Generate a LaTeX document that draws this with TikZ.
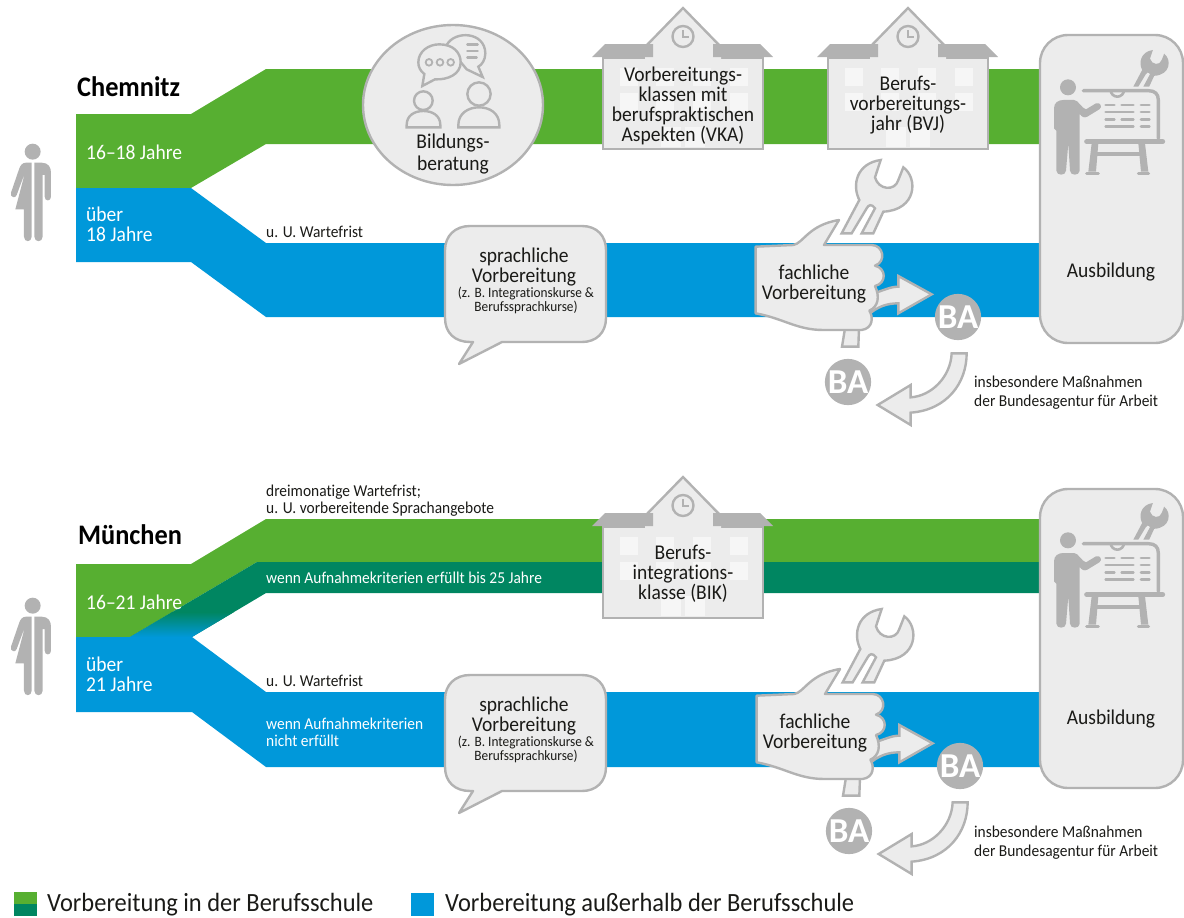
\documentclass[tikz,border=0pt]{standalone}
\usepackage{fontspec}
\setmainfont{Carlito}[FakeStretch=0.93,Ligatures=NoCommon]
\newfontfamily\bafont{Carlito}
\definecolor{bgreen}{HTML}{57AF31}
\definecolor{dgreen}{HTML}{008661}
\definecolor{bblue}{HTML}{0098DA}
\definecolor{gline}{HTML}{B2B2B2}
\definecolor{gfill}{HTML}{ECECEC}
\definecolor{wfill}{HTML}{F6F6F6}
\definecolor{ink}{HTML}{1A1A17}
\tikzset{
  shapebox/.style={draw=gline,fill=gfill,line width=2.4pt,line join=miter},
  solidicon/.style={fill=gline,draw=none},
  iconline/.style={draw=gline,line width=2.4pt,fill=none,line cap=round},
  zoomed/.style={x=0.33333pt,y=-0.33333pt},
  lbl/.style={text=ink,align=center,inner sep=0pt,font=\fontsize{21}{20}\selectfont},
  smalllbl/.style={text=ink,align=left,anchor=north west,inner sep=0pt,font=\fontsize{16.6}{16.5}\selectfont},
  tinylbl/.style={text=ink,align=center,inner sep=0pt,font=\fontsize{14.3}{14}\selectfont},
  whitelbl/.style={text=white,align=left,anchor=north west,inner sep=0pt,font=\fontsize{21}{20}\selectfont},
  whitesmall/.style={text=white,align=left,anchor=north west,inner sep=0pt,font=\fontsize{16.6}{16.5}\selectfont},
  city/.style={text=black,anchor=west,inner sep=0pt,font=\fontsize{28.3}{28.3}\selectfont\bfseries},
  legendtext/.style={text=ink,anchor=west,inner sep=0pt,font=\fontsize{26.3}{26.3}\selectfont},
  balabel/.style={circle,fill=gline,text=white,minimum size=46pt,inner sep=0pt,font=\bafont\fontsize{35}{35}\selectfont\bfseries},
  schoolhouse/.pic={
    % origin = top-left of body
    \path[shapebox] (0,0) rectangle (160,91);
    \fill[gfill] (42,-11) -- (80,-50) -- (118,-11) -- (118,1.2) -- (42,1.2) -- cycle;
    \draw[iconline,line cap=butt,line join=miter] (42,-11) -- (80,-50) -- (118,-11);
    \foreach \wx in {17,53,90,127}{
      \fill[wfill] (\wx,10) rectangle ++(18,18);
      \fill[wfill] (\wx,35) rectangle ++(18,18);
    }
    \fill[wfill] (58,69) rectangle (78,89);
    \fill[wfill] (82,69) rectangle (102,89);
    \path[solidicon] (-11,-1) -- (2,-14) -- (50,-14) -- (50,-1) -- cycle;
    \path[solidicon] (110,-14) -- (157,-14) -- (170,-1) -- (110,-1) -- cycle;
    \draw[iconline] (80,-21.5) circle (10.5);
    \draw[draw=gline,line width=1.8pt] (80,-28) -- (80,-21) -- (86,-21);
  },
  personicon/.pic={
    \begin{scope}[zoomed]
      \fill[gline] (98,275) circle (24);
      \path[solidicon] (103,308) -- (125,308) .. controls (145,308) and (153,322) .. (153,338) -- (153,410) .. controls (153,425) and (134,425) .. (134,410) -- (134,345) -- (128,345) -- (128,530) .. controls (128,548) and (103,548) .. (103,530) -- cycle;
      \path[solidicon] (95,308) -- (78,308) .. controls (66,308) and (60,318) .. (57,328) -- (33,398) .. controls (29,412) and (47,417) .. (50,405) -- (75,338) -- (46,448) -- (72,448) -- (72,530) .. controls (72,548) and (95,548) .. (95,530) -- cycle;
    \end{scope}
  },
  wrenchoutline/.pic={
    \path[pic actions] (305,250) -- (358,150) .. controls (335,105) and (350,40) .. (422,30) -- (405,82) .. controls (415,120) and (465,125) .. (475,90) -- (490,52) .. controls (535,85) and (530,180) .. (430,185) -- (400,250) -- (365,250) -- (405,175) .. controls (395,160) and (385,165) .. (380,175) -- (335,250) -- cycle;
  },
  handgroup/.pic={
    \begin{scope}[zoomed]
      \path[shapebox] (315,535) -- (306,590) -- (355,590) -- (357,535) -- cycle;
      \path[shapebox] (400,430) .. controls (430,422) and (450,410) .. (475,410) -- (475,378) -- (575,433) -- (475,490) -- (475,460) .. controls (440,460) and (415,470) .. (390,490) -- cycle;
      \pic[shapebox] {wrenchoutline};
      \path[shapebox,line join=round] (47,290) -- (160,285) .. controls (190,280) and (205,225) .. (297,210) -- (252,285) -- (395,285) .. controls (430,285) and (440,335) .. (405,347) .. controls (440,355) and (440,400) .. (405,408) .. controls (420,440) and (415,470) .. (388,482) .. controls (400,500) and (400,535) .. (365,540) -- (250,540) .. controls (170,540) and (130,505) .. (47,490) -- cycle;
      \path[shapebox] (635,610) .. controls (632,680) and (575,738) .. (512,742) -- (512,705) -- (413,765) -- (512,825) -- (512,788) .. controls (620,780) and (680,700) .. (680,610) -- cycle;
    \end{scope}
  },
  trainericon/.pic={
    \begin{scope}[zoomed]
      \fill[gline] (984,262) circle (24);
      \path[solidicon] (942,325) .. controls (942,308) and (955,300) .. (970,300) -- (1002,300) .. controls (1015,300) and (1025,325) .. (1038,328) -- (1068,310) .. controls (1082,305) and (1088,322) .. (1078,328) -- (1042,350) .. controls (1032,355) and (1025,350) .. (1019,342) -- (1019,512) .. controls (1019,528) and (990,528) .. (990,512) -- (985,430) -- (978,512) .. controls (978,528) and (949,528) .. (949,512) -- (949,392) -- (942,385) -- cycle;
      \draw[gline,line width=3.4pt,line cap=round] (1030,272) -- (1225,272) .. controls (1245,272) and (1255,282) .. (1255,300) -- (1255,415);
      \draw[gline,line width=2.6pt] (1112,270) arc[start angle=180,end angle=0,radius=20];
      \draw[gline,line width=5pt,line cap=round] (1040,425) -- (1268,425);
      \path[solidicon] (1055,430) -- (1075,430) -- (1068,515) -- (1045,515) -- cycle;
      \path[solidicon] (1195,430) -- (1215,430) -- (1225,515) -- (1203,515) -- cycle;
      \draw[gline,line width=3.2pt] (1060,462) -- (1210,462);
      \draw[gline,line width=3pt,line cap=round] (1040,520) -- (1075,520) (1195,520) -- (1226,520);
      \begin{scope}[gline,line width=2.8pt,line cap=round]
        \draw (1097,315) -- (1123,315) (1145,315) -- (1180,315) (1203,315) -- (1228,315);
        \draw (1097,336) -- (1180,336) (1203,336) -- (1228,336);
        \draw (1097,358) -- (1123,358) (1145,358) -- (1180,358) (1203,358) -- (1228,358);
        \draw (1097,380) -- (1180,380) (1203,380) -- (1228,380);
      \end{scope}
      \begin{scope}[shift={(1027.5,135)},x=0.16667pt,y=-0.16667pt]
        \pic[solidicon] {wrenchoutline};
      \end{scope}
    \end{scope}
  },
}
\begin{document}
\begin{tikzpicture}[x=1pt,y=-1pt]
\useasboundingbox (0,0) rectangle (1184,918);
% ---------- bands Chemnitz
\fill[bgreen] (76,114) -- (191,114) -- (266,69) -- (1045,69) -- (1045,144) -- (266,144) -- (191,188) -- (76,188) -- cycle;
\fill[bblue] (76,188) -- (191,188) -- (266,243) -- (1045,243) -- (1045,317) -- (266,317) -- (191,262) -- (76,262) -- cycle;
% ---------- bands Muenchen
\fill[bgreen] (76,564) -- (191,564) -- (266,519) -- (1045,519) -- (1045,562) -- (257,562) -- (130,637) -- (76,637) -- cycle;
\fill[dgreen] (130,637) -- (257,562) -- (1045,562) -- (1045,593) -- (266,593) -- (192,637) -- cycle;
\begin{scope}
  \clip (130,637) -- (257,562) -- (266,593) -- (192,637) -- cycle;
  \shade[top color=dgreen,bottom color=bblue] (120,612) rectangle (270,637);
\end{scope}
\fill[bblue] (76,637) -- (192,637) -- (266,692) -- (1045,692) -- (1045,767) -- (266,767) -- (192,712) -- (76,712) -- cycle;
% ---------- persons
\pic at (0,60) {personicon};
\pic at (0,514) {personicon};
% ---------- training boxes
\draw[shapebox,rounded corners=28pt] (1040,35) rectangle (1183,343);
\draw[shapebox,rounded corners=28pt] (1040,489) rectangle (1183,788);
\pic at (740,0) {trainericon};
\pic at (740,453) {trainericon};
% ---------- advice circle
\path[shapebox] (453,105) ellipse [x radius=90,y radius=80];
\begin{scope}[shift={(360,0)},zoomed,gline]
  \draw[iconline,fill=gfill] (260,135) .. controls (285,90) and (375,95) .. (376,160) .. controls (376,180) and (365,195) .. (355,200) -- (368,231) -- (320,208) -- cycle;
  \draw[iconline,fill=gfill] (238,133) .. controls (280,133) and (302,158) .. (302,187) .. controls (302,222) and (265,240) .. (225,238) -- (187,258) -- (193,222) .. controls (180,212) and (175,200) .. (175,187) .. controls (175,155) and (205,133) .. (238,133) -- cycle;
  \draw[iconline,line width=1.8pt] (207,187) circle (10) (240,187) circle (10) (272,187) circle (10);
  \draw[iconline] (322,133) -- (353,133) (322,153) -- (353,153) (322,173) -- (350,173);
  \draw[iconline] (190,302) circle (28);
  \draw[iconline] (140,382) -- (140,375) .. controls (140,345) and (165,333) .. (190,333) .. controls (215,333) and (241,345) .. (241,375) -- (241,382) -- cycle;
  \draw[iconline] (357,282) circle (35);
  \draw[iconline] (295,382) -- (295,375) .. controls (295,340) and (325,322) .. (357,322) .. controls (390,322) and (418,340) .. (418,375) -- (418,382) -- cycle;
\end{scope}
% ---------- schools
\pic at (603,58) {schoolhouse};
\pic at (828,58) {schoolhouse};
\pic at (603,527) {schoolhouse};
% ---------- speech bubbles
\path[shapebox,line join=round] (470,226) -- (582,226) .. controls (597,226) and (606,236) .. (606,250) -- (606,318) .. controls (606,333) and (596,342) .. (582,342) -- (502,342) -- (459,364) -- (473,342) -- (470,342) .. controls (455,342) and (445,333) .. (445,318) -- (445,250) .. controls (445,236) and (455,226) .. (470,226) -- cycle;
\path[shapebox,line join=round] (470,675) -- (582,675) .. controls (597,675) and (606,685) .. (606,699) -- (606,767) .. controls (606,782) and (596,791) .. (582,791) -- (502,791) -- (459,813) -- (473,791) -- (470,791) .. controls (455,791) and (445,782) .. (445,767) -- (445,699) .. controls (445,685) and (455,675) .. (470,675) -- cycle;
% ---------- hands
\pic at (740,150) {handgroup};
\pic at (741,599) {handgroup};
% ---------- BA
\node[balabel] (baA) at (958,317) {BA};
\node[balabel] (baB) at (848,382) {BA};
\node[balabel] (baC) at (960,766) {BA};
\node[balabel] (baD) at (849,831) {BA};
% ---------- texts
\node[city] (cityA) at (77,87) {Chemnitz};
\node[city] (cityB) at (78,535) {München};
\node[whitelbl] (ageA) at (86,145) {16–18 Jahre};
\node[whitelbl] (ageB) at (86,207) {über\\18 Jahre};
\node[whitelbl] (ageC) at (86,595) {16–21 Jahre};
\node[whitelbl] (ageD) at (86,657) {über\\21 Jahre};
\node[smalllbl] (waitA) at (266,226) {u. U. Wartefrist};
\node[smalllbl] (waitB) at (266,675) {u. U. Wartefrist};
\node[smalllbl] (waitC) at (266,485) {dreimonatige Wartefrist;\\u. U. vorbereitende Sprachangebote};
\node[whitesmall] (critA) at (266,572) {wenn Aufnahmekriterien erfüllt bis 25 Jahre};
\node[whitesmall] (critB) at (266,718) {wenn Aufnahmekriterien\\nicht erfüllt};
\node[lbl,font=\fontsize{21}{22}\selectfont] (advice) at (453,154.5) {Bildungs-\\beratung};
\node[lbl] (vka) at (683,106) {Vorbereitungs-\\klassen mit\\berufspraktischen\\Aspekten (VKA)};
\node[lbl] (bvj) at (908,105) {Berufs-\\vorbereitungs-\\jahr (BVJ)};
\node[lbl] (bik) at (683,574) {Berufs-\\integrations-\\klasse (BIK)};
\node[lbl] (lang1) at (524,267) {sprachliche\\Vorbereitung};
\node[tinylbl] (langs1) at (526,300.5) {(z. B. Integrationskurse \&\\Berufssprachkurse)};
\node[lbl] (lang2) at (524,716) {sprachliche\\Vorbereitung};
\node[tinylbl] (langs2) at (526,749.5) {(z. B. Integrationskurse \&\\Berufssprachkurse)};
\node[lbl] (tech1) at (814,284) {fachliche\\Vorbereitung};
\node[lbl] (tech2) at (815,733) {fachliche\\Vorbereitung};
\node[lbl] (job1) at (1111,272) {Ausbildung};
\node[lbl] (job2) at (1111,719) {Ausbildung};
\node[smalllbl,font=\fontsize{16.6}{19}\selectfont] (ba1) at (974,376) {insbesondere Maßnahmen\\der Bundesagentur für Arbeit};
\node[smalllbl,font=\fontsize{16.6}{19}\selectfont] (ba2) at (974,826) {insbesondere Maßnahmen\\der Bundesagentur für Arbeit};
% ---------- legend
\fill[bgreen] (14,892) rectangle (37,904);
\fill[dgreen] (14,904) rectangle (37,916);
\fill[bblue] (411,893) rectangle (434,916);
\node[legendtext] (leg1) at (47,905) {Vorbereitung in der Berufsschule};
\node[legendtext] (leg2) at (445,905) {Vorbereitung außerhalb der Berufsschule};
\end{tikzpicture}
\end{document}
